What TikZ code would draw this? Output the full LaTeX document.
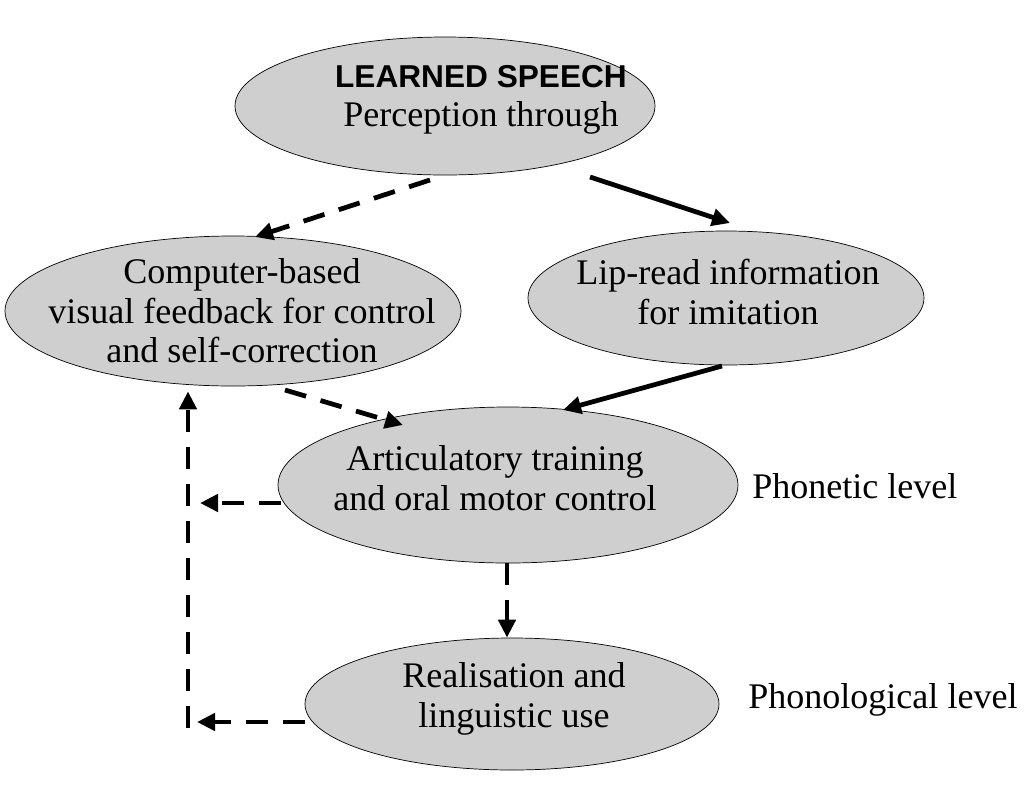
\documentclass[tikz,border=0pt]{standalone}
\usepackage{fontspec}
\setmainfont{Liberation Serif}
\setsansfont{Liberation Sans}
\usetikzlibrary{shapes.geometric,arrows.meta,calc}

\begin{document}
\begin{tikzpicture}[x=0.2mm,y=-0.2mm,
		oval/.style={ellipse,draw=black,thin,fill=black!19,inner sep=0pt},
		txt/.style={align=center,inner sep=0pt,font=\fontsize{20.5}{22.5}\selectfont},
		dline/.style={line width=0.95mm,dash pattern=on 4.4mm off 3mm,-{Triangle[length=3.6mm,width=3.4mm]}},
		sline/.style={line width=0.95mm,-{Triangle[length=3.6mm,width=3.4mm]}}]
			
			\useasboundingbox (0,0) rectangle (1024,787);
			
			\node[oval,minimum width=8.4cm,minimum height=2.76cm] (ls) at (445,106) {};
			\node[txt] (ls-t) at ($(ls)+(36,-6)$) {{\sffamily\bfseries\fontsize{18}{22}\selectfont LEARNED SPEECH}\\Perception through};
			
			\node[oval,minimum width=9.12cm,minimum height=3cm] (cbf) at (233,311) {};
			\node[txt] (cbf-t) at ($(cbf)+(9,0)$) {Computer-based\\visual feedback for control\\and self-correction};
			
			\node[oval,minimum width=7.92cm,minimum height=2.68cm] (lip) at (726,298) {};
			\node[txt] (lip-t) at ($(lip)+(2,-6)$) {Lip-read information\\for imitation};
			
			\node[oval,minimum width=9.2cm,minimum height=3.12cm] (art) at (508,485) {};
			\node[txt] (art-t) at ($(art)+(-13,-7)$) {Articulatory training\\and oral motor control};
			
			\node[oval,minimum width=8.28cm,minimum height=2.64cm] (rea) at (512,704) {};
			\node[txt] (rea-t) at ($(rea)+(2,-5)$) {Realisation and\\linguistic use};
			
			\node[txt,anchor=west] (phon) at (752,486) {Phonetic level};
			\node[txt,anchor=west] (phol) at (748,700) {Phonological level};
			
			\coordinate (fb) at (188,728);
			
			\draw[dline] ($(ls)+(-15,74)$) -- ($(cbf)+(22,-74)$);
			\draw[sline] ($(ls)+(145,71)$) -- ($(lip)+(4,-75)$);
			\draw[dline] ($(cbf)+(52,79)$) -- ($(art)+(-105,-60)$);
			\draw[sline] ($(lip)+(-4,68)$) -- ($(art)+(55,-75)$);
			\draw[dline] ($(art.west)+(3,18)$) -- ($(fb |- art.west)+(12,18)$);
			\draw[dline] ($(art.south)+(-1,0)$) -- ($(rea.north)+(-5,0)$);
			\draw[dline] ($(rea.west)+(0,18)$) -- ($(fb)+(9,-6)$);
			\draw[dline] (fb) -- ($(fb |- cbf.south)+(0,5)$);
			
		\end{tikzpicture}
\end{document}
